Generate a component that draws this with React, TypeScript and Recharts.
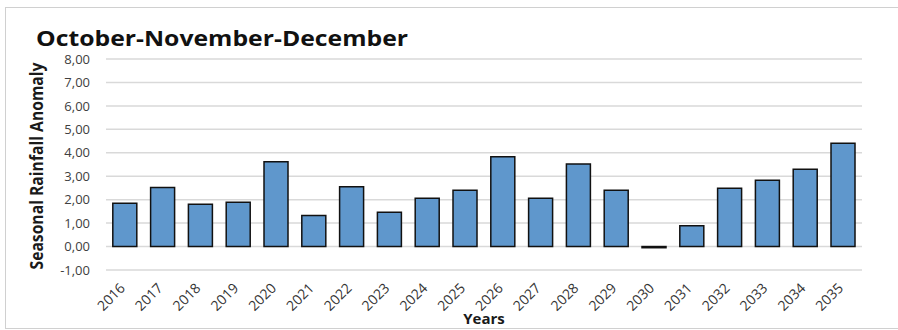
import React from 'react';
import { BarChart, Bar, XAxis, YAxis, CartesianGrid } from 'recharts';

const years = [
  '2016', '2017', '2018', '2019', '2020', '2021', '2022', '2023', '2024', '2025',
  '2026', '2027', '2028', '2029', '2030', '2031', '2032', '2033', '2034', '2035'
];
const anomaly = [
  1.85, 2.52, 1.8, 1.89, 3.62, 1.32, 2.55, 1.46, 2.06, 2.4,
  3.83, 2.06, 3.52, 2.4, -0.05, 0.89, 2.49, 2.83, 3.3, 4.41
];
const yTicks = [-1, 0, 1, 2, 3, 4, 5, 6, 7, 8];

const data = years.map((year, i) => ({ year, value: anomaly[i] }));

const FONT = '"Open Sans", "Liberation Sans", sans-serif';

const YearTick = ({ x, y, payload }: { x?: number; y?: number; payload?: { value: string } }) => (
  <text
    x={(x || 0) + 1}
    y={(y || 0) + 19}
    transform={`rotate(-45 ${(x || 0) + 1} ${(y || 0) + 19})`}
    textAnchor="end"
    fontSize={14}
    fontFamily={FONT}
    fill="#333"
  >
    {payload?.value}
  </text>
);

export default function App() {
  return (
    <div style={{ position: 'absolute', left: 0, top: 0, width: 898, height: 330, overflow: 'hidden', background: '#fff' }}>
      <div
        style={{
          position: 'absolute',
          left: 5,
          top: 7,
          width: 900,
          height: 322,
          border: '1px solid #d0d0d0',
          boxSizing: 'border-box'
        }}
      />
      <BarChart
        width={898}
        height={330}
        data={data}
        margin={{ top: 59, right: 36, bottom: 0, left: 20 }}
        barCategoryGap="18%"
        style={{ position: 'absolute', left: 0, top: 0 }}
      >
        <CartesianGrid vertical={false} stroke="#d9d9d9" strokeWidth={1.5} />
        <XAxis
          dataKey="year"
          height={60}
          axisLine={false}
          tickLine={false}
          tickSize={0}
          tickMargin={0}
          interval={0}
          tick={<YearTick />}
          label={{
            value: 'Years',
            position: 'insideBottom',
            offset: 6,
            style: { fontFamily: FONT, fontSize: 15, fontWeight: 700, fill: '#1a1a1a' }
          }}
        />
        <YAxis
          width={86}
          domain={[-1, 8]}
          ticks={yTicks}
          axisLine={false}
          tickLine={false}
          tickSize={0}
          tickMargin={16}
          tickFormatter={(v: number) => v.toFixed(2).replace('.', ',')}
          tick={{ fontSize: 13, fontFamily: FONT, fill: '#404040' }}
        />
        <Bar
          dataKey="value"
          fill="#5F97CC"
          stroke="#111"
          strokeWidth={1.5}
          isAnimationActive={false}
        />
      </BarChart>
      <svg width={898} height={330} style={{ position: 'absolute', left: 0, top: 0, pointerEvents: 'none' }}>
        <text
          x={36}
          y={46}
          fontFamily={FONT}
          fontSize={22}
          fontWeight={700}
          fill="#111"
          textLength={372}
          lengthAdjust="spacingAndGlyphs"
        >
          October-November-December
        </text>
        <text
          x={43}
          y={166}
          transform="rotate(-90 43 166)"
          textAnchor="middle"
          fontFamily={FONT}
          fontSize={17}
          fontWeight={700}
          fill="#1a1a1a"
          textLength={207}
          lengthAdjust="spacingAndGlyphs"
        >
          Seasonal Rainfall Anomaly
        </text>
      </svg>
    </div>
  );
}
